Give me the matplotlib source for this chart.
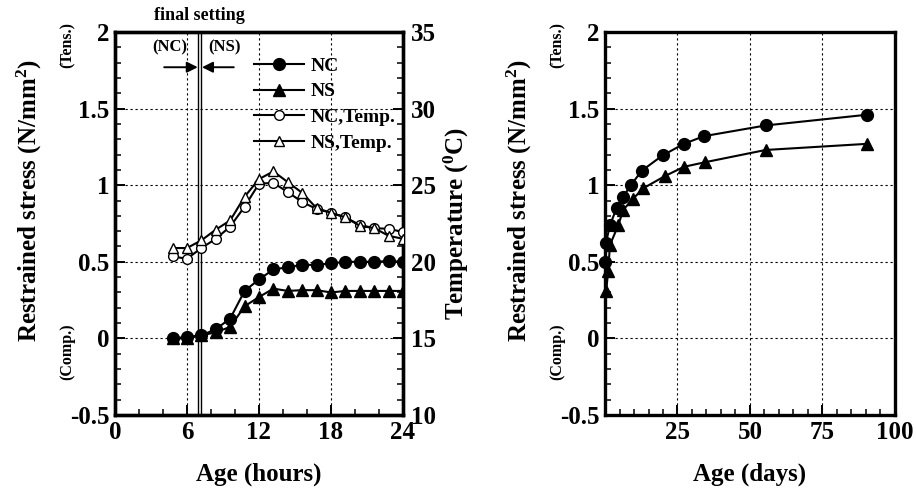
import matplotlib
matplotlib.use('Agg')
import matplotlib.pyplot as plt
from matplotlib.ticker import MultipleLocator, FuncFormatter

plt.rcParams['font.family'] = ['Liberation Serif', 'DejaVu Serif']
plt.rcParams['font.weight'] = 'bold'
plt.rcParams['mathtext.fontset'] = 'custom'
plt.rcParams['mathtext.rm'] = 'Liberation Serif:bold'
plt.rcParams['mathtext.it'] = 'Liberation Serif:bold'
plt.rcParams['mathtext.bf'] = 'Liberation Serif:bold'

# early age (hours)
hours = [4.8, 6.0, 7.2, 8.4, 9.6, 10.8, 12.0, 13.2, 14.4, 15.6, 16.8,
         18.0, 19.2, 20.4, 21.6, 22.8, 24.0]
nc_stress_h = [0.0, 0.01, 0.02, 0.06, 0.13, 0.31, 0.385, 0.45, 0.465, 0.48,
               0.48, 0.49, 0.50, 0.50, 0.50, 0.505, 0.50]
ns_stress_h = [0.0, 0.0, 0.02, 0.04, 0.075, 0.21, 0.27, 0.325, 0.31, 0.315,
               0.315, 0.30, 0.31, 0.31, 0.31, 0.31, 0.31]
nc_temp = [20.35, 20.2, 20.9, 21.5, 22.3, 23.6, 25.1, 25.15, 24.55, 23.9,
           23.45, 23.2, 22.9, 22.4, 22.2, 22.15, 21.95]
ns_temp = [20.9, 20.9, 21.4, 22.1, 22.7, 24.25, 25.4, 25.9, 25.2, 24.5,
           23.5, 23.2, 22.9, 22.35, 22.2, 21.7, 21.5]
final_setting = [6.95, 7.15]

# long term (days)
nc_days = [0.0, 0.3, 1.7, 4.0, 6.1, 8.9, 12.7, 19.9, 27.2, 34.1, 55.4, 90.4]
nc_stress_d = [0.50, 0.62, 0.74, 0.85, 0.92, 1.00, 1.095, 1.195, 1.27,
               1.32, 1.39, 1.46]
ns_days = [0.4, 1.1, 1.7, 4.6, 6.3, 9.6, 13.2, 20.7, 27.2, 34.5, 55.4, 90.4]
ns_stress_d = [0.31, 0.44, 0.61, 0.74, 0.84, 0.91, 0.98, 1.06, 1.12, 1.15,
               1.23, 1.27]

LBL = 18
TCK = 18


def fmt(v, pos):
    return '%g' % v


def style_axes(ax):
    for s in ax.spines.values():
        s.set_linewidth(2.4)
    ax.tick_params(which='major', direction='in', length=7, width=1.4,
                   labelsize=TCK, top=False, right=False, pad=4)
    ax.tick_params(which='minor', direction='in', length=4, width=1.1,
                   top=False, right=False)
    ax.yaxis.set_major_locator(MultipleLocator(0.5))
    ax.yaxis.set_minor_locator(MultipleLocator(0.1))
    ax.yaxis.set_major_formatter(FuncFormatter(fmt))
    ax.set_ylim(-0.5, 2)
    ax.grid(True, which='major', color='black', linestyle=(0, (2, 2.5)),
            linewidth=0.8)
    ax.set_ylabel('Restrained stress (N/mm$^2$)', fontsize=LBL, fontweight='bold')
    ax.yaxis.set_label_coords(-0.245, 0.56)
    ax.text(-0.165, 0.965, '(Tens.)', transform=ax.transAxes, rotation=90,
            fontsize=11.5, ha='center', va='center')
    ax.text(-0.165, 0.165, '(Comp.)', transform=ax.transAxes, rotation=90,
            fontsize=11.5, ha='center', va='center')


fig = plt.figure(figsize=(9.16, 4.9), dpi=100)
ax1 = fig.add_axes([0.1255, 0.153, 0.3145, 0.7817])
ax3 = fig.add_axes([0.6605, 0.153, 0.3165, 0.7817])

# left panel
style_axes(ax1)
ax1.set_xlim(0, 24)
ax1.xaxis.set_major_locator(MultipleLocator(6))
ax1.xaxis.set_minor_locator(MultipleLocator(2))
ax1.set_xlabel('Age (hours)', fontsize=LBL, fontweight='bold', labelpad=14)

for xf in final_setting:
    ax1.axvline(xf, color='black', linewidth=1.0)

l_nc, = ax1.plot(hours, nc_stress_h, '-o', color='black', mfc='black',
                 ms=8.5, lw=1.5, zorder=4)
l_ns, = ax1.plot(hours, ns_stress_h, '-^', color='black', mfc='black',
                 ms=8.5, lw=1.5, zorder=3)

ax2 = ax1.twinx()
ax2.set_ylim(10, 35)
ax2.yaxis.set_major_locator(MultipleLocator(5))
ax2.yaxis.set_minor_locator(MultipleLocator(1))
for s in ax2.spines.values():
    s.set_linewidth(2.4)
ax2.tick_params(which='major', direction='in', length=7, width=1.4,
                labelsize=TCK, pad=6)
ax2.tick_params(which='minor', direction='in', length=4, width=1.1)
ax2.set_ylabel('Temperature ($^0$C)', fontsize=LBL, fontweight='bold')
ax2.yaxis.set_label_coords(1.135, 0.5)

l_nct, = ax2.plot(hours, nc_temp, '-o', color='black', mfc='white',
                  ms=7, lw=1.5, zorder=3)
l_nst, = ax2.plot(hours, ns_temp, '-^', color='black', mfc='white',
                  ms=7.5, lw=1.5, zorder=3)

ax2.legend([l_nc, l_ns, l_nct, l_nst],
           ['NC', 'NS', 'NC,Temp.', 'NS,Temp.'],
           loc='upper left', bbox_to_anchor=(0.455, 0.955), frameon=False,
           fontsize=14, handlelength=2.6, labelspacing=0.42, handletextpad=0.3,
           borderaxespad=0)

ax1.annotate('', xy=(6.9, 1.77), xytext=(4.1, 1.77),
             arrowprops=dict(arrowstyle='-|>', color='black', lw=1.4,
                             mutation_scale=16, shrinkA=0, shrinkB=0))
ax1.annotate('', xy=(7.25, 1.77), xytext=(9.9, 1.77),
             arrowprops=dict(arrowstyle='-|>', color='black', lw=1.4,
                             mutation_scale=16, shrinkA=0, shrinkB=0))
ax1.text(4.6, 1.9, '(NC)', fontsize=12, ha='center', va='center')
ax1.text(9.1, 1.9, '(NS)', fontsize=12, ha='center', va='center')
ax1.text(7.05, 2.105, 'final setting', fontsize=13, ha='center',
         va='center', clip_on=False)

# right panel
style_axes(ax3)
ax3.set_xlim(0, 100)
ax3.xaxis.set_major_locator(MultipleLocator(25))
ax3.xaxis.set_minor_locator(MultipleLocator(5))
ax3.xaxis.set_major_formatter(FuncFormatter(lambda v, p: '' if v == 0 else '%g' % v))
ax3.set_xlabel('Age (days)', fontsize=LBL, fontweight='bold', labelpad=14)
ax3.plot(nc_days, nc_stress_d, '-o', color='black', mfc='black', ms=8.5,
         lw=1.5, clip_on=False, zorder=4)
ax3.plot(ns_days, ns_stress_d, '-^', color='black', mfc='black', ms=8.5,
         lw=1.5, clip_on=False, zorder=3)

fig.savefig('out.png', dpi=100)
